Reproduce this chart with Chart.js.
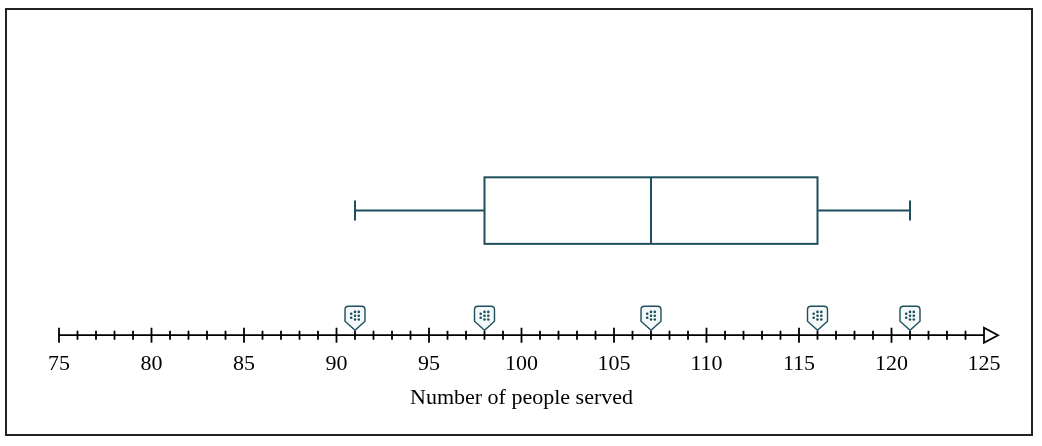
<!DOCTYPE html>
<html lang="en">
<head>
    <meta charset="UTF-8">
    <title>Number of people served - box plot</title>
    <script src="https://cdn.jsdelivr.net/npm/chart.js@4"></script>
    <style>
        html, body { margin: 0; padding: 0; background: #fff; }
        #wrap { width: 1042px; height: 446px; position: relative; }
    </style>
</head>
<body>
    <div id="wrap">
        <canvas id="boxChart"></canvas>
    </div>

    <script>
        // five number summary
        const summaryLabels = ['min', 'q1', 'median', 'q3', 'max'];
        const summaryValues = [91, 98, 107, 116, 121];

        // number line
        const axisMin = 75;
        const axisMax = 125;
        const axisStep = 1;
        const labelEvery = 5;
        const axisTitle = 'Number of people served';

        const teal = '#1d4f5c';
        const serif = "'Liberation Serif', 'Times New Roman', serif";

        // draws the frame, the box plot, the number line ticks, arrow and markers
        const boxPlotPlugin = {
            id: 'boxPlot',
            beforeDraw(chart) {
                const ctx = chart.ctx;
                ctx.save();
                ctx.fillStyle = '#fff';
                ctx.fillRect(0, 0, chart.width, chart.height);
                ctx.strokeStyle = '#222';
                ctx.lineWidth = 2;
                ctx.strokeRect(6, 9, 1026, 426);
                ctx.restore();
            },
            afterDraw(chart) {
                const ctx = chart.ctx;
                const x = chart.scales.x;
                const y = chart.scales.y;
                const [mn, q1, med, q3, mx] = summaryValues;

                const yc = y.getPixelForValue(38.2);
                const yTop = y.getPixelForValue(48.4);
                const yBot = y.getPixelForValue(28.0);
                const capHalf = 10;

                ctx.save();
                ctx.strokeStyle = teal;
                ctx.lineWidth = 2;
                ctx.lineCap = 'butt';

                // whiskers
                ctx.beginPath();
                ctx.moveTo(x.getPixelForValue(mn), yc);
                ctx.lineTo(x.getPixelForValue(q1), yc);
                ctx.moveTo(x.getPixelForValue(q3), yc);
                ctx.lineTo(x.getPixelForValue(mx), yc);
                ctx.moveTo(x.getPixelForValue(mn), yc - capHalf);
                ctx.lineTo(x.getPixelForValue(mn), yc + capHalf);
                ctx.moveTo(x.getPixelForValue(mx), yc - capHalf);
                ctx.lineTo(x.getPixelForValue(mx), yc + capHalf);
                ctx.stroke();

                // box and median
                const bx = x.getPixelForValue(q1);
                ctx.strokeRect(bx, yTop, x.getPixelForValue(q3) - bx, yBot - yTop);
                ctx.beginPath();
                ctx.moveTo(x.getPixelForValue(med), yTop);
                ctx.lineTo(x.getPixelForValue(med), yBot);
                ctx.stroke();
                ctx.restore();

                // number line
                const ay = chart.chartArea.bottom;
                const x0 = x.getPixelForValue(axisMin);
                const x1 = x.getPixelForValue(axisMax);
                ctx.save();
                ctx.strokeStyle = '#000';
                ctx.lineWidth = 1.8;
                ctx.beginPath();
                ctx.moveTo(x0, ay);
                ctx.lineTo(x1, ay);
                for (let v = axisMin; v < axisMax; v += axisStep) {
                    const px = x.getPixelForValue(v);
                    const h = v % labelEvery === 0 ? 7.5 : 4.5;
                    ctx.moveTo(px, ay - h);
                    ctx.lineTo(px, ay + h);
                }
                ctx.stroke();

                // arrow head
                ctx.beginPath();
                ctx.moveTo(x1, ay - 7.5);
                ctx.lineTo(x1 + 14, ay);
                ctx.lineTo(x1, ay + 7.5);
                ctx.closePath();
                ctx.fillStyle = '#fff';
                ctx.fill();
                ctx.stroke();
                ctx.restore();

                // markers over the five summary values
                summaryValues.forEach(v => {
                    const px = x.getPixelForValue(v);
                    const w = 10, top = ay - 29, sh = ay - 14, tip = ay - 5, r = 3.5;
                    ctx.save();
                    ctx.beginPath();
                    ctx.moveTo(px, tip);
                    ctx.lineTo(px - w, sh);
                    ctx.lineTo(px - w, top + r);
                    ctx.quadraticCurveTo(px - w, top, px - w + r, top);
                    ctx.lineTo(px + w - r, top);
                    ctx.quadraticCurveTo(px + w, top, px + w, top + r);
                    ctx.lineTo(px + w, sh);
                    ctx.closePath();
                    ctx.fillStyle = '#f4f8f9';
                    ctx.fill();
                    ctx.strokeStyle = teal;
                    ctx.lineWidth = 1.4;
                    ctx.stroke();
                    ctx.fillStyle = teal;
                    const dots = [[-3.8, -2], [-3.8, 2], [0, -3.8], [0, 0], [0, 3.8], [3.8, -3.8], [3.8, 0], [3.8, 3.8]];
                    const cy = top + 9.5;
                    dots.forEach(([dx, dy]) => {
                        ctx.beginPath();
                        ctx.arc(px + dx, cy + dy, 1.3, 0, Math.PI * 2);
                        ctx.fill();
                    });
                    ctx.restore();
                });
            }
        };

        const ctx = document.getElementById('boxChart').getContext('2d');
        new Chart(ctx, {
            type: 'scatter',
            data: {
                datasets: [{
                    label: 'summary',
                    data: summaryValues.map(v => ({ x: v, y: 0 })),
                    pointRadius: 0,
                    showLine: false
                }]
            },
            options: {
                responsive: true,
                maintainAspectRatio: false,
                animation: false,
                events: [],
                layout: {
                    padding: { left: 59, right: 58, top: 9, bottom: 35 }
                },
                plugins: {
                    legend: { display: false },
                    tooltip: { enabled: false }
                },
                scales: {
                    x: {
                        type: 'linear',
                        min: axisMin,
                        max: axisMax,
                        grid: { display: false, drawTicks: false },
                        border: { display: false },
                        ticks: {
                            stepSize: axisStep,
                            autoSkip: false,
                            maxRotation: 0,
                            padding: 16,
                            color: '#000',
                            font: { family: serif, size: 22 },
                            callback: v => (v % labelEvery === 0 ? String(v) : '')
                        },
                        title: {
                            display: true,
                            text: axisTitle,
                            color: '#000',
                            font: { family: serif, size: 22 },
                            padding: { top: -9, bottom: 0 }
                        }
                    },
                    y: {
                        display: false,
                        min: 0,
                        max: 100
                    }
                }
            },
            plugins: [boxPlotPlugin]
        });
    </script>
</body>
</html>
